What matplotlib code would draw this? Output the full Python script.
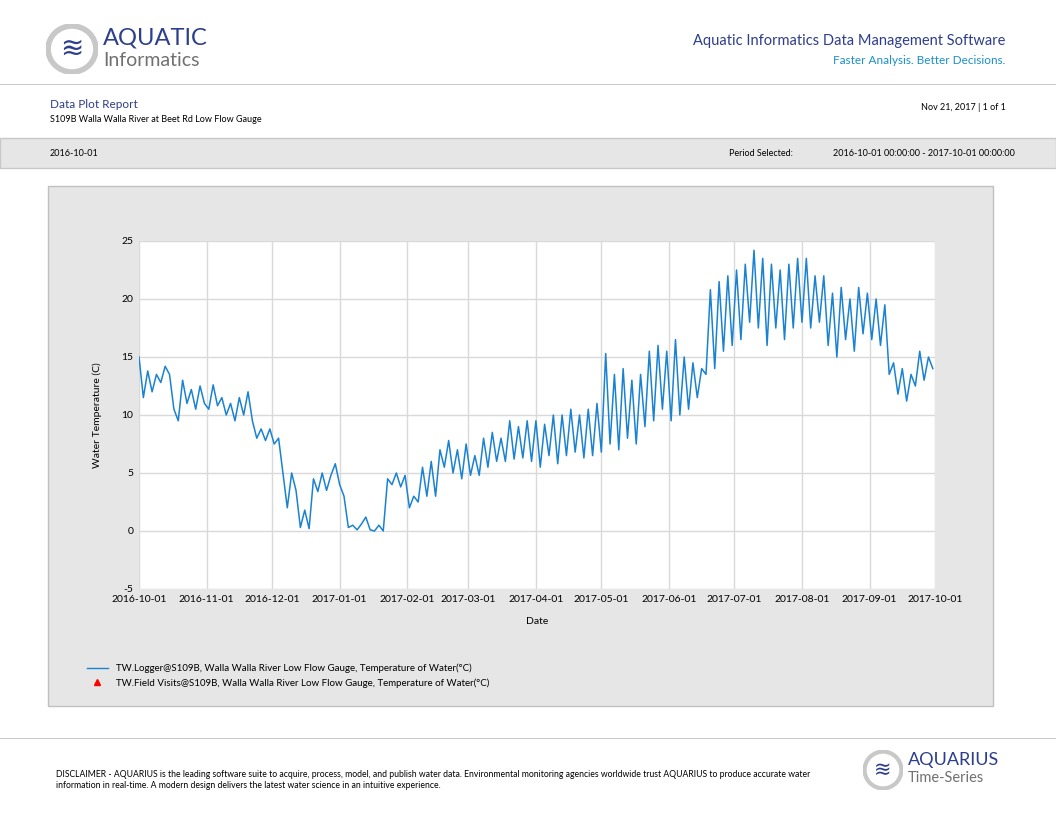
import datetime as dt

import matplotlib
matplotlib.use("Agg")
import matplotlib.dates as mdates
import matplotlib.pyplot as plt
from matplotlib.lines import Line2D
from matplotlib.patches import Circle, Rectangle

plt.rcParams["font.family"] = ["Lato", "DejaVu Sans"]
plt.rcParams["axes.unicode_minus"] = False

START = dt.datetime(2016, 10, 1)
STEP_DAYS = 2

# water temperature (C), one reading every 2 days
temp_oct = [15, 11.5, 13.8, 12, 13.5, 12.8, 14.2, 13.5, 10.5, 9.5, 13, 11, 12.2, 10.5, 12.5, 11]
temp_nov = [10.5, 12.6, 10.8, 11.5, 10, 11, 9.5, 11.5, 10, 12, 9.5, 8.0, 8.8, 7.8, 8.8]
temp_dec = [7.5, 8, 5, 2, 5, 3.5, 0.3, 1.8, 0.2, 4.5, 3.4, 5, 3.5, 4.8, 5.8]
temp_jan = [4, 3, 0.3, 0.5, 0.1, 0.6, 1.2, 0.1, 0, 0.5, 0, 4.5, 4.0, 5.0, 3.8, 4.8]
temp_feb = [2, 3, 2.5, 5.5, 3, 6, 3, 7, 5.5, 7.8, 5, 7, 4.5, 7.5]
temp_mar = [4.8, 6.5, 4.8, 8, 5.5, 8.5, 6, 8, 6, 9.5, 6.2, 9, 6.3, 9.5, 6]
temp_apr = [9.5, 5.5, 9.2, 6.5, 10, 5.8, 10, 6.5, 10.5, 6.8, 10, 6.3, 10.5, 6.5, 11]
temp_may = [6.8, 15.3, 7.5, 13.5, 7, 14, 8, 13, 7.5, 13.5, 9, 15.5, 9.5, 16, 10.5, 15.5]
temp_jun = [9.5, 16.5, 10, 15, 10.5, 14.5, 11.5, 14, 13.5, 20.8, 14, 21.5, 15.5, 22, 16]
temp_jul = [22.5, 16.5, 23, 18, 24.2, 17.5, 23.5, 16, 23, 17.5, 22.5, 16.5, 23, 17.5, 23.5]
temp_aug = [18, 23.5, 17.5, 22, 18, 22, 16, 20.5, 15, 21, 16.5, 20, 15.5, 21, 17, 20.5]
temp_sep = [16.5, 20, 16, 19.5, 13.5, 14.5, 11.8, 14, 11.2, 13.5, 12.5, 15.5, 13, 15, 14]

temps = (temp_oct + temp_nov + temp_dec + temp_jan + temp_feb + temp_mar
         + temp_apr + temp_may + temp_jun + temp_jul + temp_aug + temp_sep)
dates = [START + dt.timedelta(days=STEP_DAYS * i) for i in range(len(temps))]

W, H = 1056, 816
fig = plt.figure(figsize=(W / 100, H / 100), dpi=100)


def fx(px):
    return px / W


def fy(py):
    return 1 - py / H


def box(x0, y0, x1, y1, **kw):
    fig.patches.append(Rectangle((fx(x0), fy(y1)), fx(x1 - x0), fy(y0) - fy(y1),
                                 transform=fig.transFigure, zorder=-5, **kw))


# header
box(0, 84, W, 85, color="#c8c8c8", lw=0)
box(0, 138, W, 168, facecolor="#e6e6e6", edgecolor="#c8c8c8", lw=1)
box(0, 738, W, 739, color="#c8c8c8", lw=0)
box(48, 186, 993, 706, facecolor="#e6e6e6", edgecolor="#c0c0c0", lw=1)

# logos
logo = fig.add_axes([fx(46), fy(74), fx(52), fy(24) - fy(74)])
logo.set_xlim(0, 1); logo.set_ylim(0, 1); logo.axis("off")
logo.add_patch(Circle((0.5, 0.5), 0.46, facecolor="white", edgecolor="#c8c8c8", lw=4))
logo.text(0.5, 0.5, "≋", color="#2d3e8c", fontsize=20, ha="center", va="center",
          family="DejaVu Sans")
fig.text(fx(103), fy(38), "AQUATIC", fontsize=17, color="#2d3e8c", va="center")
fig.text(fx(103), fy(60), "Informatics", fontsize=14, color="#707070", va="center")

logo2 = fig.add_axes([fx(863), fy(790), fx(40), fy(750) - fy(790)])
logo2.set_xlim(0, 1); logo2.set_ylim(0, 1); logo2.axis("off")
logo2.add_patch(Circle((0.5, 0.5), 0.46, facecolor="white", edgecolor="#c8c8c8", lw=3))
logo2.text(0.5, 0.5, "≋", color="#2d3e8c", fontsize=15, ha="center", va="center",
           family="DejaVu Sans")
fig.text(fx(908), fy(760), "AQUARIUS", fontsize=13, color="#2d3e8c", va="center")
fig.text(fx(908), fy(778), "Time-Series", fontsize=10.5, color="#707070", va="center")

fig.text(fx(1005), fy(41), "Aquatic Informatics Data Management Software", fontsize=10.5,
         color="#2d3e8c", ha="right", va="center")
fig.text(fx(1005), fy(60), "Faster Analysis. Better Decisions.", fontsize=8.5,
         color="#1a8fc8", ha="right", va="center")
fig.text(fx(50), fy(104), "Data Plot Report", fontsize=8.5, color="#2d3e8c", va="center")
fig.text(fx(50), fy(119), "S109B Walla Walla River at Beet Rd Low Flow Gauge", fontsize=6.5,
         color="black", va="center")
fig.text(fx(1006), fy(107), "Nov 21, 2017 | 1 of 1", fontsize=6.5, ha="right", va="center")
fig.text(fx(50), fy(153), "2016-10-01", fontsize=6.5, va="center")
fig.text(fx(729), fy(153), "Period Selected:", fontsize=6.5, va="center")
fig.text(fx(1015), fy(153), "2016-10-01 00:00:00 - 2017-10-01 00:00:00", fontsize=6.5,
         ha="right", va="center")
fig.text(fx(56), fy(780),
         "DISCLAIMER - AQUARIUS is the leading software suite to acquire, process, model, and "
         "publish water data. Environmental monitoring agencies worldwide trust AQUARIUS to "
         "produce accurate water\ninformation in real-time. A modern design delivers the latest "
         "water science in an intuitive experience.",
         fontsize=6.2, va="center", linespacing=1.4)

# chart
ax = fig.add_axes([fx(139), fy(589), fx(935 - 139), fy(241) - fy(589)])
ax.plot(dates, temps, color="#1a82d2", lw=1.1)
ax.set_xlim(START, dt.datetime(2017, 10, 1))
ax.set_ylim(-5, 25)
ax.set_yticks(range(-5, 26, 5))
ax.xaxis.set_major_locator(mdates.MonthLocator())
ax.xaxis.set_major_formatter(mdates.DateFormatter("%Y-%m-%d"))
ax.grid(color="#d9d9d9", lw=1)
for s in ax.spines.values():
    s.set_visible(False)
ax.tick_params(length=0, labelsize=7.5, pad=4)
ax.set_xlabel("Date", fontsize=7.5, labelpad=10)
ax.set_ylabel("Water Temperature (C)", fontsize=7.5, labelpad=14)

handles = [
    Line2D([], [], color="#1a82d2", lw=1),
    Line2D([], [], color="red", marker="^", ls="none", markersize=4),
]
labels = [
    "TW.Logger@S109B, Walla Walla River Low Flow Gauge, Temperature of Water(\u00b0C)",
    "TW.Field Visits@S109B, Walla Walla River Low Flow Gauge, Temperature of Water(\u00b0C)",
]
fig.legend(handles, labels, loc="upper left", bbox_to_anchor=(fx(78), fy(655)),
           frameon=False, fontsize=7, handlelength=2.2, labelspacing=0.5)

fig.savefig("out.png", dpi=100)
